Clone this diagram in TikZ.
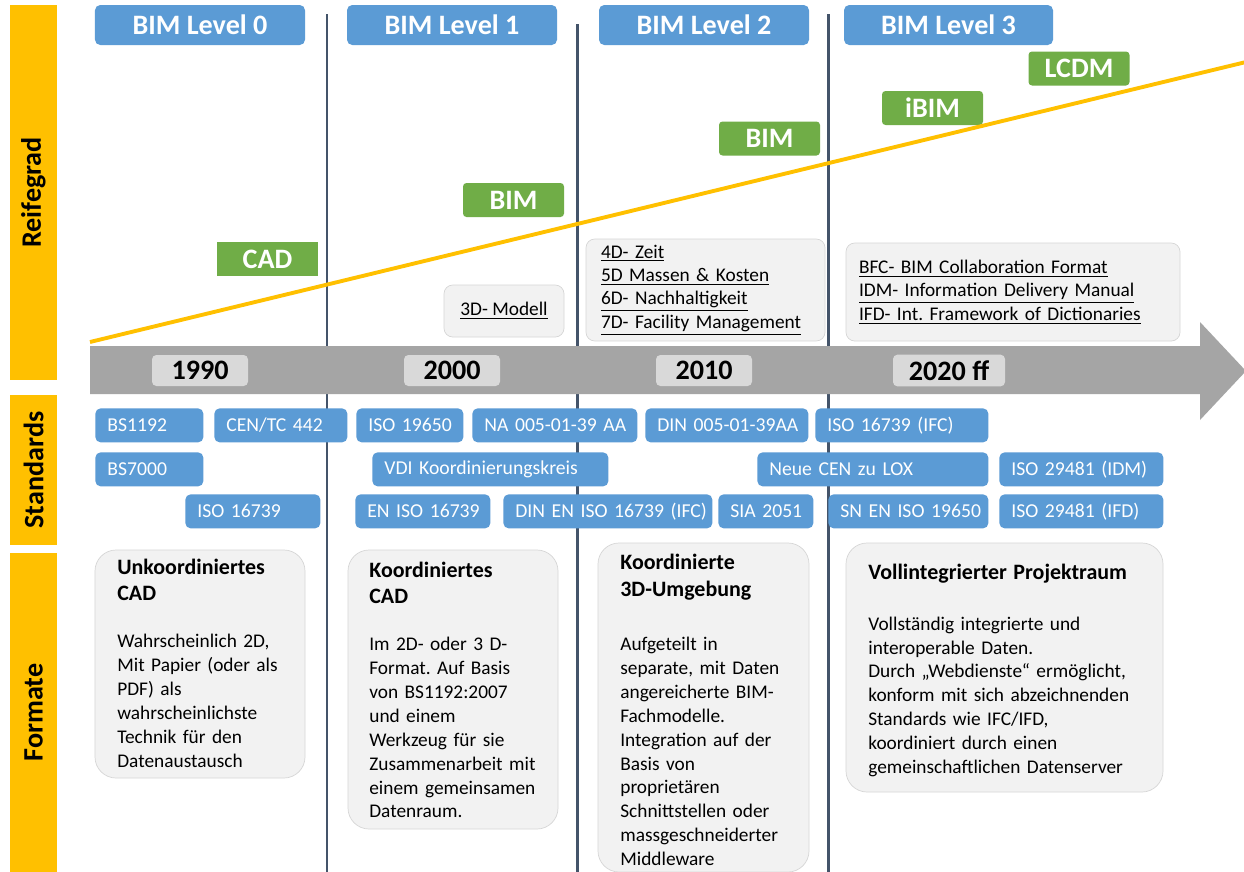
\documentclass[tikz,border=0pt]{standalone}
\usepackage{fontspec}
\setmainfont{Carlito}
\frenchspacing
\definecolor{barYellow}{HTML}{FFC000}
\definecolor{levelBlue}{HTML}{5B9BD5}
\definecolor{maturityGreen}{HTML}{70AD47}
\definecolor{arrowGray}{HTML}{A5A5A5}
\definecolor{yearGray}{HTML}{D9D9D9}
\definecolor{noteGray}{HTML}{F2F2F2}
\definecolor{noteLine}{HTML}{D6D6D6}
\definecolor{sepSlate}{HTML}{44546A}

\begin{document}
\begin{tikzpicture}[
        x=0.2mm, y=-0.2mm,
        sidebar/.style={fill=barYellow, rotate=90, minimum height=9.4mm, font=\bfseries\fontsize{16}{19}\selectfont},
        levelbox/.style={fill=levelBlue, text=white, rounded corners=3pt, minimum width=42mm, minimum height=8mm, font=\bfseries\fontsize{16}{19}\selectfont},
        maturitybox/.style={fill=maturityGreen, text=white, rounded corners=2pt, minimum width=20.2mm, minimum height=6.8mm, font=\bfseries\fontsize{16}{19}\selectfont},
        yearbox/.style={fill=yearGray, rounded corners=2.5pt, minimum height=6.2mm, font=\bfseries\fontsize{16}{19}\selectfont},
        stdbox/.style={fill=levelBlue, text=white, rounded corners=3pt, anchor=north west, minimum height=6.8mm,
            inner xsep=0pt, text width=#1, align=left, execute at begin node={\hspace*{2.4mm}},
            font=\fontsize{11.2}{13.6}\selectfont},
        notebox/.style={fill=noteGray, draw=noteLine, rounded corners=5pt, font=\fontsize{11}{13.3}\selectfont},
        formatbox/.style={fill=noteGray, draw=noteLine, rounded corners=12pt},
        formattext/.style={anchor=base west, inner sep=0pt, text width=60mm, align=left, font=\fontsize{11}{13.6}\selectfont},
        sepline/.style={draw=sepSlate, line width=1.7pt}
    ]
        \fill[white] (0,0) rectangle (1244,871);
        \useasboundingbox (0,0) rectangle (1244,871);

        % left bars
        \node[sidebar, minimum width=75mm] (barReife) at (33.5,192.5) {Reifegrad};
        \node[sidebar, minimum width=30mm] (barStandards) at (33.5,470) {Standards};
        \node[sidebar, minimum width=63.8mm] (barFormate) at (33.5,712.5) {Formate};

        % phase borders
        \draw[sepline] (327,14) -- (327,872);
        \draw[sepline] (577,24) -- (577,872);
        \draw[sepline] (828,14) -- (828,872);

        % time axis
        \fill[arrowGray] (90,346) -- (1200,346) -- (1200,322) -- (1246,371)
            -- (1200,420) -- (1200,394) -- (90,394) -- cycle;

        \node[levelbox] (level0) at (200,25) {BIM Level 0};
        \node[levelbox] (level1) at (452,25) {BIM Level 1};
        \node[levelbox] (level2) at (704,25) {BIM Level 2};
        \node[levelbox, minimum width=41.8mm] (level3) at (948.5,25) {BIM Level 3};

        \node[maturitybox, rounded corners=0pt] (matCAD) at (267.5,259) {CAD};
        \node[maturitybox] (matBIMa) at (513.5,200) {BIM};
        \node[maturitybox] (matBIMb) at (769.5,138.5) {BIM};
        \node[maturitybox] (matiBIM) at (932.5,108) {iBIM};
        \node[maturitybox] (matLCDM) at (1079,68.5) {LCDM};

        % maturity trend
        \coordinate (trendStart) at (90,342);
        \coordinate (trendEnd) at (1246,62);
        \draw[barYellow, line width=2.2pt] (trendStart) -- (trendEnd);

        \node[notebox, minimum width=24mm, minimum height=10.4mm]
            (noteModell) at (504,311) {\underline{3D- Modell}};
        \node[notebox, minimum width=47.8mm, minimum height=20mm, inner xsep=3mm, text width=41.8mm, align=left]
            (noteDims) at (705.5,290)
            {\underline{4D- Zeit}\\ \underline{5D Massen \& Kosten}\\
             \underline{6D- Nachhaltigkeit}\\ \underline{7D- Facility Management}};
        \node[notebox, minimum width=66.8mm, minimum height=19.6mm, inner xsep=2.6mm, text width=61.6mm, align=left]
            (noteFormats) at (1013,292)
            {\underline{BFC- BIM Collaboration Format}\\
             \underline{IDM- Information Delivery Manual}\\
             \underline{IFD- Int. Framework of Dictionaries}};

        \node[yearbox, minimum width=19.2mm] (year1990) at (200,370.5) {1990};
        \node[yearbox, minimum width=19.2mm] (year2000) at (452,370.5) {2000};
        \node[yearbox, minimum width=19.2mm] (year2010) at (704,370.5) {2010};
        \node[yearbox, minimum width=22.4mm] (year2020) at (949,370.5) {2020 ff};

        % standards
        \node[stdbox=21.6mm] (stdBSa) at (95,408) {BS1192};
        \node[stdbox=26.6mm] (stdCEN) at (214,408) {CEN/TC 442};
        \node[stdbox=21.4mm] (stdISOa) at (356,408) {ISO 19650};
        \node[stdbox=33mm] (stdNA) at (472,408) {NA 005-01-39 AA};
        \node[stdbox=32.6mm] (stdDINa) at (645,408) {DIN 005-01-39AA};
        \node[stdbox=34.6mm] (stdIFCa) at (815,408) {ISO 16739 (IFC)};

        \node[stdbox=21.6mm] (stdBSb) at (95,452) {BS7000};
        \node[stdbox=47.2mm] (stdVDI) at (372,452) {VDI Koordinierungskreis};
        \node[stdbox=46.2mm] (stdLOX) at (757,452) {Neue CEN zu LOX};
        \node[stdbox=32.8mm] (stdIDM) at (999,452) {ISO 29481 (IDM)};

        \node[stdbox=27mm] (stdISOb) at (185,494) {ISO 16739};
        \node[stdbox=27mm] (stdEN) at (355,494) {EN ISO 16739};
        \node[stdbox=41.8mm] (stdDINb) at (503,494) {DIN EN ISO 16739 (IFC)};
        \node[stdbox=19mm] (stdSIA) at (718,494) {SIA 2051};
        \node[stdbox=32mm] (stdSN) at (828,494) {SN EN ISO 19650};
        \node[stdbox=32.8mm] (stdIFD) at (999,494) {ISO 29481 (IFD)};

        % formats
        \node[formatbox, minimum width=42mm, minimum height=45.6mm] (fmtUnko) at (200,664) {};
        \node[formatbox, minimum width=42mm, minimum height=55.8mm] (fmtKoord) at (453,689.5) {};
        \node[formatbox, minimum width=42.2mm, minimum height=65.8mm] (fmtUmgeb) at (703.5,707.5) {};
        \node[formatbox, minimum width=63.4mm, minimum height=49.8mm] (fmtRaum) at (1004.5,667.5) {};

        \node[formattext] (fmtUnkoText) at (117,574)
            {{\bfseries\fontsize{12.5}{15}\selectfont Unkoordiniertes}\\[1.7pt]
             {\bfseries\fontsize{12.5}{15}\selectfont CAD}\\[13pt]
             Wahrscheinlich 2D,\\ Mit Papier (oder als\\ PDF) als\\
             wahrscheinlichste\\ Technik für den\\ Datenaustausch};
        \node[formattext] (fmtKoordText) at (369,577)
            {{\bfseries\fontsize{12.5}{15}\selectfont Koordiniertes}\\[1.7pt]
             {\bfseries\fontsize{12.5}{15}\selectfont CAD}\\[13pt]
             Im 2D- oder 3 D-\\ Format. Auf Basis\\ von BS1192:2007\\ und einem\\
             Werkzeug für sie\\ Zusammenarbeit mit\\ einem gemeinsamen\\ Datenraum.};
        \node[formattext] (fmtUmgebText) at (620,569)
            {{\bfseries\fontsize{12.5}{15}\selectfont Koordinierte}\\[2.2pt]
             {\bfseries\fontsize{12.5}{15}\selectfont 3D-Umgebung}\\[17pt]
             Aufgeteilt in\\ separate, mit Daten\\ angereicherte BIM-\\ Fachmodelle.\\
             Integration auf der\\ Basis von\\ proprietären\\ Schnittstellen oder\\
             massgeschneiderter\\ Middleware};
        \node[formattext] (fmtRaumText) at (868,579)
            {{\bfseries\fontsize{12.5}{15}\selectfont Vollintegrierter Projektraum}\\[15.5pt]
             Vollständig integrierte und\\ interoperable Daten.\\
             Durch „Webdienste“ ermöglicht,\\ konform mit sich abzeichnenden\\
             Standards wie IFC/IFD,\\ koordiniert durch einen\\ gemeinschaftlichen Datenserver};
    \end{tikzpicture}
\end{document}
